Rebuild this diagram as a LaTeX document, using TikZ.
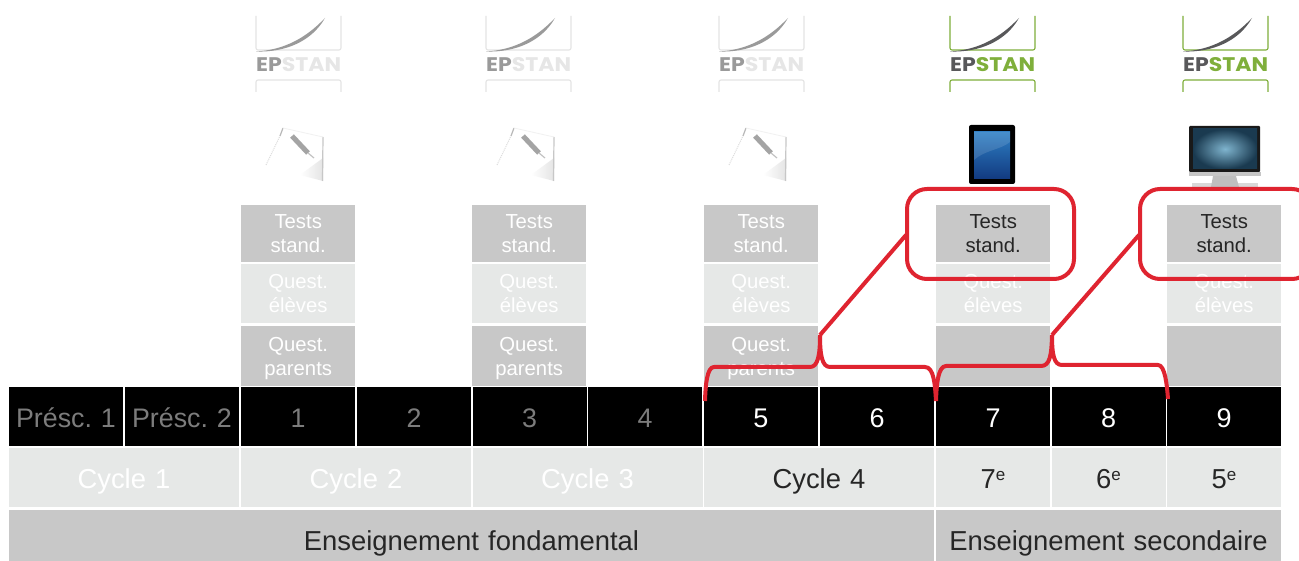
\documentclass[tikz,border=0pt]{standalone}
\usepackage{fontspec}
\usepackage{graphicx}
\setmainfont{Liberation Sans}
\newfontfamily\logofont{Poppins}
\AtBeginDocument{\frenchspacing}
\usetikzlibrary{calc}
\definecolor{boxg}{HTML}{C8C8C8}
\definecolor{boxl}{HTML}{E6E8E7}
\definecolor{redl}{HTML}{DF2430}
\definecolor{epg}{HTML}{7FAF3B}
\definecolor{epd}{HTML}{58585A}
\definecolor{fadeA}{HTML}{9A9A9A}
\definecolor{fadeB}{HTML}{E4E4E4}
\definecolor{fadeC}{HTML}{E6E6E6}
\definecolor{dimt}{HTML}{7C7C7C}
\definecolor{inkt}{HTML}{262626}
\definecolor{tabtop}{HTML}{2E7FC4}
\definecolor{tabbot}{HTML}{123A80}
\definecolor{moncen}{HTML}{7FB4CE}
\definecolor{monout}{HTML}{1A3A50}
\tikzset{
  x=1pt,y=-1pt,
  cell/.style={anchor=north west,inner sep=0pt,outer sep=0pt,align=center,text width=#1,minimum width=#1},
  blk/.style={fill=black,text=white,minimum height=59pt,text height=21pt,text depth=0pt,font=\fontsize{27}{27}\selectfont},
  pre/.style={blk,text=dimt,font=\fontsize{26.8}{27}\selectfont},
  tbox/.style={fill=boxg,text=white,anchor=north west,minimum width=114pt,inner sep=0pt,align=center,font=\fontsize{20.3}{24}\selectfont},
  lbox/.style={fill=boxl,text=white,anchor=north west,minimum width=114pt,inner sep=0pt,align=center,font=\fontsize{20.3}{24}\selectfont},
  cyc/.style={fill=boxl,anchor=north west,inner sep=0pt,minimum height=59pt,text height=21pt,text depth=0pt,font=\fontsize{27.4}{27}\selectfont},
  ens/.style={fill=boxg,anchor=north west,inner sep=0pt,minimum height=51pt,text height=29pt,text depth=0pt,font=\fontsize{27.4}{27}\selectfont},
  redline/.style={draw=redl,line width=4pt,line join=round},
  redbox/.style={draw=redl,line width=4pt,rounded corners=20pt,fill=none},
}
\newcommand{\supe}{\raisebox{7.5pt}{\fontsize{17}{17}\selectfont e}}
% logo: x left, frame, swoosh, left word, right word
\newcommand{\eplogo}[5]{%
  \begin{scope}[shift={(#1,0)}]
    \draw[#2,line width=1.1pt,rounded corners=2pt] (0,16)--(0,50)--(85,50)--(85,16);
    \draw[#2,line width=1.1pt,rounded corners=2pt] (0,92)--(0,80)--(85,80)--(85,92);
    \fill[#3] (0,51.5) .. controls (28,50) and (50,38) .. (69,18) .. controls (56,41) and (30,52.5) .. (0,51.5);
    \node[anchor=west,inner sep=0pt] (lg#1) at (0,64.5) {\resizebox{85pt}{14pt}{\logofont\bfseries\textcolor{#4}{EP}\textcolor{#5}{STAN}}};
  \end{scope}}
% pencil on a sheet
\newcommand{\pencilicon}[1]{%
  \begin{scope}[shift={(#1,0)}]
    \shade[left color=white,right color=fadeB] (34,175)--(57,158)--(57,181)--cycle;
    \draw[fadeA!55,line width=1.2pt] (57,137)--(56.5,181);
    \draw[fadeA!35,line width=1pt,dash pattern=on 1pt off 1pt] (0,165)--(14,136);
    \draw[fadeA!70,line width=1.2pt] (17,128)--(14,136);
    \draw[fadeB!50,line width=.8pt] (17,128)--(57,137);
    \draw[fadeA!90,line width=5pt] (26,136)--(42,153);
    \draw[fadeA!60,line width=1.2pt] (42,153)--(48,158);
  \end{scope}}
\begin{document}
\begin{tikzpicture}
\path[use as bounding box,fill=white] (0,0) rectangle (1299,561);

\eplogo{256}{fadeB}{fadeA}{fadeA}{fadeC}
\eplogo{486}{fadeB}{fadeA}{fadeA}{fadeC}
\eplogo{719}{fadeB}{fadeA}{fadeA}{fadeC}
\eplogo{950}{epg}{epd}{epd}{epg}
\eplogo{1183}{epg}{epd}{epd}{epg}

\pencilicon{266}
\pencilicon{497}
\pencilicon{729}

% tablet
\fill[black,rounded corners=2pt] (969,125) rectangle (1015,184);
\shade[top color=tabtop,bottom color=tabbot] (974,132) rectangle (1010,179);
\fill[white,opacity=.12] (974,160) .. controls (985,150) and (1000,150) .. (1010,142) -- (1010,132) -- (974,132) -- cycle;
% monitor
\fill[black!90,rounded corners=1pt] (1189,126) rectangle (1260,172);
\shade[inner color=moncen,outer color=monout] (1193,129) rectangle (1257,169);
\fill[gray!45] (1189,172) rectangle (1261,176);
\fill[gray!30] (1192,183) rectangle (1258,188);
\fill[gray!50] (1213,176) -- (1236,176) -- (1239,187) -- (1211,187) -- cycle;

% test stacks
\node[tbox,minimum height=57pt] (t1) at (241,205) {Tests\\stand.};
\node[lbox,minimum height=59pt] (q1) at (241,264) {Quest.\\élèves};
\node[tbox,minimum height=60pt] (p1) at (241,325.5) {\rule{0pt}{19pt}Quest.\\parents};
\node[tbox,minimum height=57pt] (t2) at (472,205) {Tests\\stand.};
\node[lbox,minimum height=59pt] (q2) at (472,264) {Quest.\\élèves};
\node[tbox,minimum height=60pt] (p2) at (472,325.5) {\rule{0pt}{19pt}Quest.\\parents};
\node[tbox,minimum height=57pt] (t3) at (704,205) {Tests\\stand.};
\node[lbox,minimum height=59pt] (q3) at (704,264) {Quest.\\élèves};
\node[tbox,minimum height=60pt] (p3) at (704,325.5) {\rule{0pt}{19pt}Quest.\\parents};
\node[tbox,minimum height=57pt,text=inkt] (t4) at (936,205) {Tests\\stand.};
\node[lbox,minimum height=59pt] (q4) at (936,264) {Quest.\\élèves};
\node[tbox,minimum height=60pt] (p4) at (936,325.5) {};
\node[tbox,minimum height=57pt,text=inkt] (t5) at (1167,205) {Tests\\stand.};
\node[lbox,minimum height=59pt] (q5) at (1167,264) {Quest.\\élèves};
\node[tbox,minimum height=60pt] (p5) at (1167,325.5) {};

% black grade bar
\node[cell=114pt,pre] (g0) at (9,387) {Présc. 1};
\node[cell=114pt,pre] (g00) at (125,387) {Présc. 2};
\node[cell=114pt,pre] (g1) at (241,387) {1};
\node[cell=114pt,pre] (g2) at (357,387) {2};
\node[cell=114pt,pre] (g3) at (472.5,387) {3};
\node[cell=114pt,pre] (g4) at (588,387) {4};
\node[cell=114pt,blk] (g5) at (704,387) {5};
\node[cell=114pt,blk] (g6) at (820,387) {6};
\node[cell=114pt,blk] (g7) at (936,387) {7};
\node[cell=114pt,blk] (g8) at (1051.5,387) {8};
\node[cell=114pt,blk] (g9) at (1167,387) {9};

% cycles
\node[cyc,cell=230pt,text=white] (c1) at (9,448) {Cycle 1};
\node[cyc,cell=230pt,text=white] (c2) at (241,448) {Cycle 2};
\node[cyc,cell=230pt,text=white] (c3) at (472.5,448) {Cycle 3};
\node[cyc,cell=230pt,text=inkt] (c4) at (704,448) {Cycle 4};
\node[cyc,cell=114pt,text=inkt] (y7) at (936,448) {7\supe};
\node[cyc,cell=114pt,text=inkt] (y6) at (1051.5,448) {6\supe};
\node[cyc,cell=114pt,text=inkt] (y5) at (1167,448) {5\supe};

\node[ens,cell=925pt,text=inkt] (e1) at (9,510) {Enseignement fondamental};
\node[ens,cell=345pt,text=inkt] (e2) at (936,510) {Enseignement secondaire};

% red highlights
\draw[redbox] (907,189) rectangle (1074,279);
\draw[redbox] (1140,189) -- (1312,189) -- (1312,279) -- (1140,279) -- cycle;
\coordinate (b1) at (705,401);
\coordinate (b2) at (820,335);
\coordinate (b3) at (936,401);
\coordinate (b4) at (1052,335);
\coordinate (b5) at (1168,399);
\coordinate (k1) at (906,235);
\coordinate (k2) at (1139,235);
\draw[redline] (b1) .. controls (705.5,385) and (707,367) .. (714,367) -- (810,367) .. controls (818,367) and (820,355) .. (b2);
\draw[redline] (b2) .. controls (820,355) and (822,367) .. (830,367) -- (925,367) .. controls (934,367) and (935,385) .. (b3);
\draw[redline] (b3) .. controls (936.5,385) and (938,366) .. (946,366) -- (1041,366) .. controls (1050,366) and (1051.5,355) .. (b4);
\draw[redline] (b4) .. controls (1052,355) and (1054,365) .. (1062,365) -- (1158,365) .. controls (1165,365) and (1167,385) .. (b5);
\draw[redline] (b2) -- (k1);
\draw[redline] (b4) -- (k2);
\end{tikzpicture}
\end{document}
